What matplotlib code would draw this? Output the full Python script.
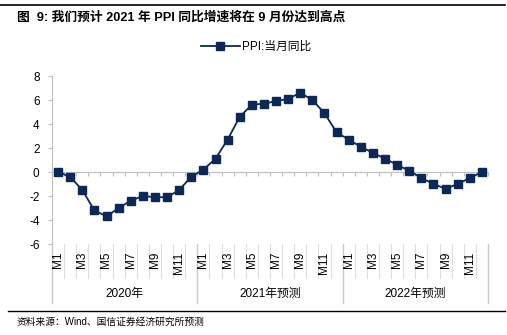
# PPI 当月同比走势及预测
import matplotlib.pyplot as plt
from matplotlib.lines import Line2D

plt.rcParams['font.family'] = ['Liberation Sans', 'Noto Sans CJK SC']
plt.rcParams['axes.unicode_minus'] = False

groups = ["2020年", "2021年预测", "2022年预测"]
months = [f"M{m}" for m in range(1, 13)]
ppi_2020 = [0.0, -0.4, -1.5, -3.2, -3.7, -3.0, -2.4, -2.0, -2.1, -2.1, -1.5, -0.4]
ppi_2021 = [0.2, 1.1, 2.7, 4.6, 5.6, 5.7, 5.9, 6.1, 6.6, 6.0, 4.9, 3.3]
ppi_2022 = [2.7, 2.1, 1.6, 1.1, 0.6, 0.1, -0.5, -1.0, -1.4, -1.0, -0.5, 0.0]
y_ticks = [-6, -4, -2, 0, 2, 4, 6, 8]

values = ppi_2020 + ppi_2021 + ppi_2022
x = list(range(len(values)))
navy = "#0b2856"
grid_gray = "#bfbfbf"

fig = plt.figure(figsize=(5.07, 3.35), dpi=100)
ax = fig.add_axes([52 / 507, 91 / 335, 436 / 507, 168 / 335])

ax.plot(x, values, color=navy, lw=1.3, marker="s", markersize=6, zorder=3,
        markerfacecolor=navy, markeredgecolor=navy, label="PPI:当月同比")

ax.set_xlim(-0.5, len(values) - 0.5)
ax.set_ylim(-6, 8)
ax.set_yticks(y_ticks)
ax.tick_params(axis="y", labelsize=8.5, length=3, color=grid_gray, pad=6)

# x轴放在0的位置，刻度在分类之间
for s in ["top", "right"]:
    ax.spines[s].set_visible(False)
ax.spines["left"].set_color(grid_gray)
ax.spines["bottom"].set_position(("data", 0))
ax.spines["bottom"].set_color(grid_gray)
ax.set_xticks([i - 0.5 for i in range(len(values) + 1)])
ax.set_xticklabels([])
ax.tick_params(axis="x", length=3, color=grid_gray)

# 底部分类标签
trans = ax.get_xaxis_transform()
for i in range(len(values)):
    if i % 2 == 0:
        ax.text(i, -0.045, months[i % 12], rotation=90, ha="center", va="top",
                fontsize=8.5, transform=trans)
for b in range(len(values) + 1):
    if b % 12 == 0:
        ax.plot([b - 0.5, b - 0.5], [0, -0.35], color="#c8c8c8", lw=1,
                transform=trans, clip_on=False)
    else:
        ax.plot([b - 0.5, b - 0.5], [0, -0.2], color="#dedede", lw=0.8,
                transform=trans, clip_on=False)
for g, name in enumerate(groups):
    ax.text(g * 12 + 5.5, -0.30, name, ha="center", va="center",
            fontsize=8.5, transform=trans)

fig.legend(loc="center", bbox_to_anchor=(0.505, 1 - 47 / 335), frameon=False,
           fontsize=8.5, handlelength=3.3, handletextpad=0.2)

fig.text(17 / 507, 1 - 17 / 335, "图  9: 我们预计 2021 年 PPI 同比增速将在 9 月份达到高点",
         fontsize=9.2, fontweight="bold", va="center", ha="left")
fig.text(17 / 507, 1 - 322 / 335, "资料来源：Wind、国信证券经济研究所预测",
         fontsize=7, va="center", ha="left")

fig.add_artist(Line2D([0, 505 / 507], [1 - 5 / 335, 1 - 5 / 335], color="black", lw=1.2))
fig.add_artist(Line2D([8 / 507, 505 / 507], [1 - 311 / 335, 1 - 311 / 335], color="black", lw=1.0))

plt.savefig("out.png", dpi=100)
